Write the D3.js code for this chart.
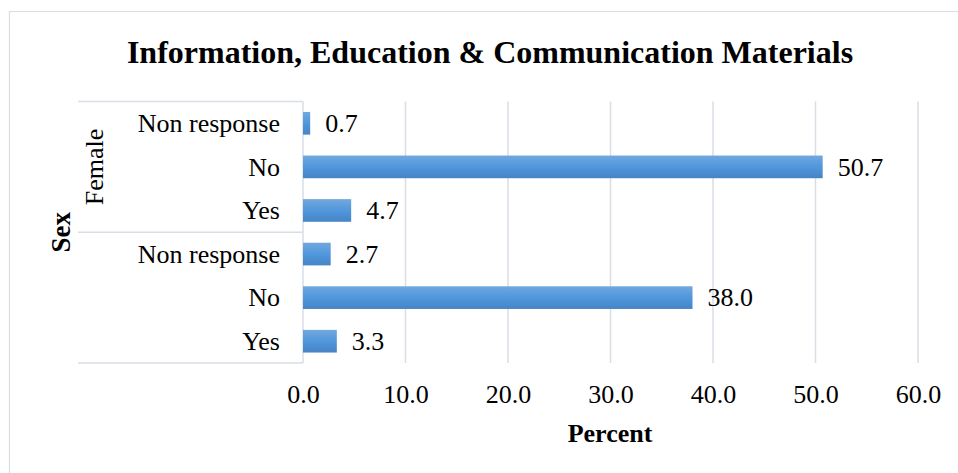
<!DOCTYPE html>
<html>
<head>
<meta charset="utf-8">
<script src="https://cdn.jsdelivr.net/npm/d3@7"></script>
<style>
  html, body { margin: 0; padding: 0; background: #fff; }
  svg { display: block; }
  text { font-family: "Liberation Serif", "Times New Roman", serif; fill: #000; }
</style>
</head>
<body>
<svg id="chart" width="958" height="473"></svg>
<script>
const chartTitle = "Information, Education & Communication Materials";
const xAxisTitle = "Percent";
const yAxisTitle = "Sex";
const groupLabels = ["Female", ""];
const responses = ["Non response", "No", "Yes"];
const femaleValues = [0.7, 50.7, 4.7];
const maleValues = [2.7, 38.0, 3.3];
const xTicks = [0, 10, 20, 30, 40, 50, 60];

const rows = [];
[femaleValues, maleValues].forEach((vals, gi) => {
  responses.forEach((r, ri) => rows.push({ key: gi + "|" + r, group: gi, label: r, value: vals[ri] }));
});

const svg = d3.select("#chart");
const gridColor = "#d9dee6";

const defs = svg.append("defs");
const grad = defs.append("linearGradient").attr("id", "barGrad")
  .attr("x1", 0).attr("y1", 0).attr("x2", 0).attr("y2", 1);
grad.append("stop").attr("offset", "0%").attr("stop-color", "#72a8de");
grad.append("stop").attr("offset", "50%").attr("stop-color", "#5097dc");
grad.append("stop").attr("offset", "100%").attr("stop-color", "#4684c5");

// frame
svg.append("path").attr("d", "M9.5,480 V11.5 H960")
  .attr("fill", "none").attr("stroke", gridColor).attr("stroke-width", 1.2);

const plotLeft = 303, plotRight = 918, plotTop = 101.5, plotBottom = 363;
const x = d3.scaleLinear().domain([0, 60]).range([plotLeft, plotRight]);
const y = d3.scaleBand().domain(rows.map(d => d.key)).range([plotTop, plotBottom])
  .paddingInner(0.48).paddingOuter(0.24);

// gridlines
svg.append("g").selectAll("line").data(xTicks.slice(1)).join("line")
  .attr("x1", d => x(d)).attr("x2", d => x(d))
  .attr("y1", plotTop).attr("y2", plotBottom)
  .attr("stroke", gridColor).attr("stroke-width", 1.5);

// x axis labels via d3 axis
const xAxis = d3.axisBottom(x).tickValues(xTicks).tickFormat(d3.format(".1f")).tickSize(0).tickPadding(0);
const gx = svg.append("g").attr("transform", `translate(0,${plotBottom})`).call(xAxis);
gx.select(".domain").remove();
gx.selectAll("text").attr("y", 40).attr("dy", null)
  .style("font-size", "26px").style("font-family", "Liberation Serif");

// y axis line (category axis)
svg.append("line").attr("x1", plotLeft).attr("x2", plotLeft)
  .attr("y1", plotTop).attr("y2", plotBottom).attr("stroke", gridColor).attr("stroke-width", 1.5);

// category table lines
const tableLeft = 78;
const groupBounds = [plotTop, plotTop + (plotBottom - plotTop) / 2, plotBottom];
svg.append("g").selectAll("line").data(groupBounds).join("line")
  .attr("x1", tableLeft).attr("x2", plotLeft)
  .attr("y1", d => d).attr("y2", d => d)
  .attr("stroke", gridColor).attr("stroke-width", 1.5);

// category labels
svg.append("g").selectAll("text").data(rows).join("text")
  .attr("x", 280).attr("y", d => y(d.key) + y.bandwidth() / 2)
  .attr("dy", "0.34em").attr("text-anchor", "end")
  .style("font-size", "26px").text(d => d.label);

// group labels
svg.append("g").selectAll("text").data(groupLabels).join("text")
  .attr("transform", (d, i) => `translate(103,${(groupBounds[i] + groupBounds[i + 1]) / 2}) rotate(-90)`)
  .attr("text-anchor", "middle").style("font-size", "26px").text(d => d);

// y axis title
svg.append("text").attr("transform", `translate(70,${(plotTop + plotBottom) / 2}) rotate(-90)`)
  .attr("text-anchor", "middle").style("font-size", "27px").style("font-weight", "bold").text(yAxisTitle);

// bars
svg.append("g").selectAll("rect").data(rows).join("rect")
  .attr("x", x(0)).attr("y", d => y(d.key))
  .attr("width", d => x(d.value) - x(0)).attr("height", y.bandwidth())
  .attr("fill", "url(#barGrad)");

// value labels
svg.append("g").selectAll("text").data(rows).join("text")
  .attr("x", d => x(d.value) + 15).attr("y", d => y(d.key) + y.bandwidth() / 2)
  .attr("dy", "0.34em").style("font-size", "26px").text(d => d.value.toFixed(1));

// x axis title
svg.append("text").attr("x", 610).attr("y", 442).attr("text-anchor", "middle")
  .style("font-size", "26px").style("font-weight", "bold").text(xAxisTitle);

// title
svg.append("text").attr("x", 490).attr("y", 63).attr("text-anchor", "middle")
  .style("font-size", "32px").style("font-weight", "bold").text(chartTitle);
</script>
</body>
</html>
